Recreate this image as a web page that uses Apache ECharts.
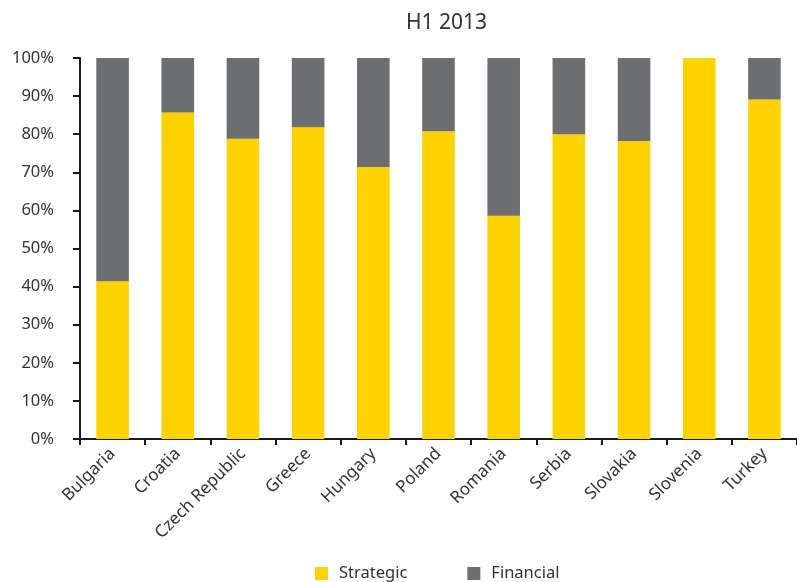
<!DOCTYPE html>
<html>
<head>
<meta charset="utf-8">
<script src="https://cdn.jsdelivr.net/npm/echarts@6/dist/echarts.min.js"></script>
<style>
  html, body { margin: 0; padding: 0; background: #ffffff; }
  #chart { width: 797px; height: 582px; }
</style>
</head>
<body>
<div id="chart"></div>
<script>
// Deal split by buyer type, share of total (%)
const countries = ['Bulgaria', 'Croatia', 'Czech Republic', 'Greece', 'Hungary', 'Poland', 'Romania', 'Serbia', 'Slovakia', 'Slovenia', 'Turkey'];
const strategic = [41.4, 85.7, 78.8, 81.8, 71.4, 80.8, 58.6, 80.0, 78.2, 100.0, 89.1];
const financial = strategic.map(v => +(100 - v).toFixed(1));
const seriesNames = ['Strategic', 'Financial'];
const titleText = 'H1 2013';

const FONT = '"Noto Sans", "Open Sans", sans-serif';
const TEXT = '#333333';
const AXIS = '#1a1a1a';

const chart = echarts.init(document.getElementById('chart'));
chart.setOption({
  animation: false,
  title: {
    text: titleText,
    left: 401,
    top: 8,
    textStyle: { fontFamily: FONT, fontSize: 21, fontWeight: 'normal', color: TEXT }
  },
  legend: {
    data: seriesNames,
    top: 560,
    left: 310,
    padding: [5, 5, 5, 5],
    itemWidth: 13,
    itemHeight: 13,
    itemGap: 60,
    icon: 'rect',
    textStyle: { fontFamily: FONT, fontSize: 16.5, color: TEXT, padding: [0, 0, 0, 6] }
  },
  grid: { left: 80, top: 58, width: 725, height: 381, containLabel: false },
  xAxis: {
    type: 'category',
    data: countries,
    axisLine: { lineStyle: { color: AXIS, width: 2 } },
    axisTick: { show: true, length: 6, lineStyle: { color: AXIS, width: 2 } },
    axisLabel: {
      rotate: 45,
      interval: 0,
      margin: 12,
      fontFamily: FONT,
      fontSize: 17,
      color: TEXT
    }
  },
  yAxis: {
    type: 'value',
    min: 0,
    max: 100,
    interval: 10,
    axisLine: { show: true, lineStyle: { color: AXIS, width: 2 } },
    axisTick: { show: true, length: 7, lineStyle: { color: AXIS, width: 2 } },
    splitLine: { show: false },
    axisLabel: {
      formatter: '{value}%',
      margin: 26,
      fontFamily: FONT,
      fontSize: 16.5,
      color: TEXT
    }
  },
  series: [
    {
      name: seriesNames[0],
      type: 'bar',
      stack: 'total',
      barWidth: '50%',
      data: strategic,
      itemStyle: { color: '#FCD300' }
    },
    {
      name: seriesNames[1],
      type: 'bar',
      stack: 'total',
      barWidth: '50%',
      data: financial,
      itemStyle: { color: '#6D6E71' }
    }
  ]
});
</script>
</body>
</html>
